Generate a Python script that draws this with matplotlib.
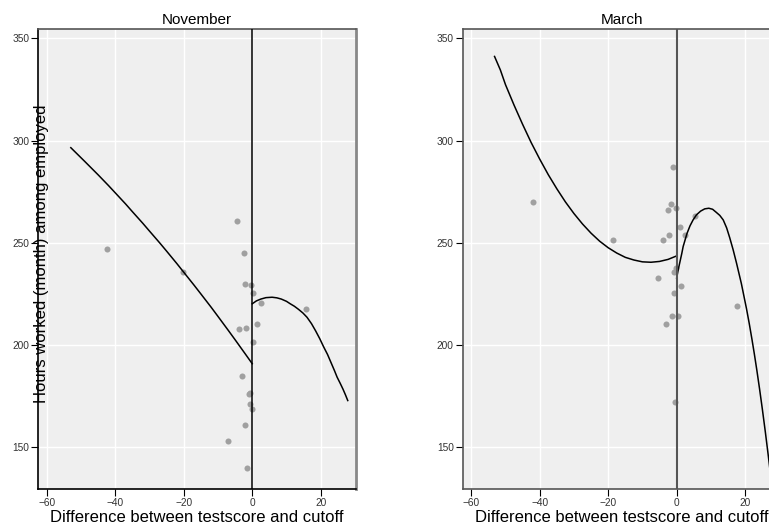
import matplotlib
matplotlib.use("Agg")
import matplotlib.pyplot as plt

plt.rcParams['font.family'] = ['Liberation Sans', 'DejaVu Sans']

# November - data points
nov_x = [-42.4, -4.6, -2.3, -20.2, -2.1, -0.4, 0.3, 2.6, 15.8, 1.3, -1.7, -3.8,
         0.1, -2.9, -0.6, -1.0, -0.8, -0.2, -2.0, -7.0, -1.5]
nov_y = [247.2, 260.7, 245.1, 235.5, 230.0, 229.3, 225.4, 220.8, 217.6, 210.1, 208.5, 208.1,
         201.3, 185.1, 176.8, 176.0, 171.3, 168.7, 161.0, 153.2, 140.0]
# November - fitted lines (left / right of cutoff)
nov_fit_l_x = [-53, -49, -45, -42, -40, -37, -35, -32, -30, -27, -25, -22, -20, -17, -15, -12, -10, -7, -5, -2, 0]
nov_fit_l_y = [296.5, 289.9, 283.2, 278.0, 274.4, 269.0, 265.2, 259.6, 255.7, 249.9, 245.9, 239.8,
               235.6, 229.3, 225.0, 218.5, 214.0, 207.2, 202.6, 195.6, 190.9]
nov_fit_r_x = [0, 1.2, 2.5, 4.0, 5.8, 7.2, 8.5, 10.0, 11.1, 12.3, 13.5, 14.8, 16.0, 17.3, 18.5,
               19.7, 20.9, 22.0, 23.0, 24.0, 24.8, 25.7, 26.5, 27.2, 27.9]
nov_fit_r_y = [220.2, 221.6, 222.5, 223.2, 223.4, 223.1, 222.5, 221.4, 220.2, 219.0, 217.5, 215.7,
               213.6, 210.5, 207.0, 203.2, 199.0, 195.4, 191.5, 187.6, 184.3, 181.3, 178.5, 175.8, 172.9]

# March - data points
mar_x = [-42.1, -18.7, -1.0, -1.7, -2.5, -0.2, 0.9, 5.3, 2.3, -2.3, -3.9,
         -0.3, -0.7, -5.4, 1.4, -0.9, 17.7, -1.4, 0.4, -3.1, -0.4]
mar_y = [269.8, 251.4, 287.0, 269.0, 266.2, 267.2, 257.5, 263.2, 253.8, 253.8, 251.6,
         237.5, 235.5, 232.8, 228.9, 225.3, 219.2, 214.0, 214.3, 210.4, 172.2]
# March - fitted lines
mar_fit_l_x = [-53.2, -51.5, -50, -47.5, -45, -42.5, -40, -37.5, -35, -32.5, -30, -27.5, -25,
               -22.5, -20, -17.5, -15, -12.5, -10, -7.5, -5, -2.5, 0]
mar_fit_l_y = [341.1, 334.5, 327.3, 317.3, 307.9, 299.0, 290.9, 283.3, 276.4, 270.0, 264.3, 259.2,
               254.7, 250.8, 247.6, 245.0, 242.9, 241.6, 240.7, 240.5, 240.9, 241.9, 243.6]
mar_fit_r_x = [0, 0.5, 1.0, 1.5, 1.9, 2.5, 3.0, 3.9, 4.8, 5.8, 7.0, 8.2, 9.4, 10.5, 11.5, 12.6,
               13.6, 14.6, 15.5, 16.5, 17.5, 18.9, 20.4, 21.2, 22.0, 22.7, 23.4, 24.2, 25.0, 25.9,
               26.8, 27.7, 28.5]
mar_fit_r_y = [232.8, 237.2, 241.0, 244.8, 248.2, 251.6, 254.5, 258.3, 261.2, 263.7, 265.5, 266.6,
               266.9, 266.4, 265.0, 263.4, 261.2, 257.3, 252.5, 246.6, 240.0, 230.1, 217.8, 210.6,
               202.8, 195.6, 188.0, 178.8, 169.1, 157.6, 145.5, 132.8, 120.9]

titles = ["November", "March"]
xticks = [-60, -40, -20, 0, 20]
yticks = [150, 200, 250, 300, 350]

fig = plt.figure(figsize=(7.69, 5.25), dpi=100)
ax1 = fig.add_axes([0.0498, 0.0691, 0.4131, 0.8756])
ax2 = fig.add_axes([0.6017, 0.0691, 0.4131, 0.8756])

panels = [
    (ax1, nov_x, nov_y, nov_fit_l_x, nov_fit_l_y, nov_fit_r_x, nov_fit_r_y),
    (ax2, mar_x, mar_y, mar_fit_l_x, mar_fit_l_y, mar_fit_r_x, mar_fit_r_y),
]

for i, (ax, px, py, lx, ly, rx, ry) in enumerate(panels):
    ax.set_facecolor("#efefef")
    ax.set_axisbelow(True)
    ax.grid(True, color="white", linewidth=1)
    ax.scatter(px, py, s=19, color="#a0a0a0", linewidths=0, zorder=3)
    ax.plot(lx, ly, color="black", linewidth=1.1, zorder=4)
    ax.plot(rx, ry, color="black", linewidth=1.1, zorder=4)
    if i == 0:
        ax.axvline(0, color="black", linewidth=1.1, zorder=5)
    else:
        ax.axvline(0, color="#555555", linewidth=1.5, zorder=5)
    ax.set_xlim(-62.5, 30.3)
    ax.set_ylim(129.8, 354.5)
    ax.set_xticks(xticks)
    ax.set_yticks(yticks)
    ax.tick_params(labelsize=7.3, labelcolor="#333333", length=5, width=0.8, pad=1.5)
    ax.set_title(titles[i], fontsize=11, pad=3.5)
    ax.set_xlabel("Difference between testscore and cutoff", fontsize=12)
    ax.xaxis.set_label_coords(0.5, -0.046)
    for s in ax.spines.values():
        s.set_color("#555555")
        s.set_linewidth(1.2)
    if i == 0:
        ax.spines["left"].set_color("black")
        ax.spines["bottom"].set_color("black")
        ax.spines["right"].set_color("#888888")
        ax.spines["right"].set_linewidth(2)

# y label sits inside the left panel
fig.text(42 / 769, 0.516, "Hours worked (month) among employed", rotation=90,
         ha="center", va="center", fontsize=12)

fig.savefig("out.png", dpi=100)
